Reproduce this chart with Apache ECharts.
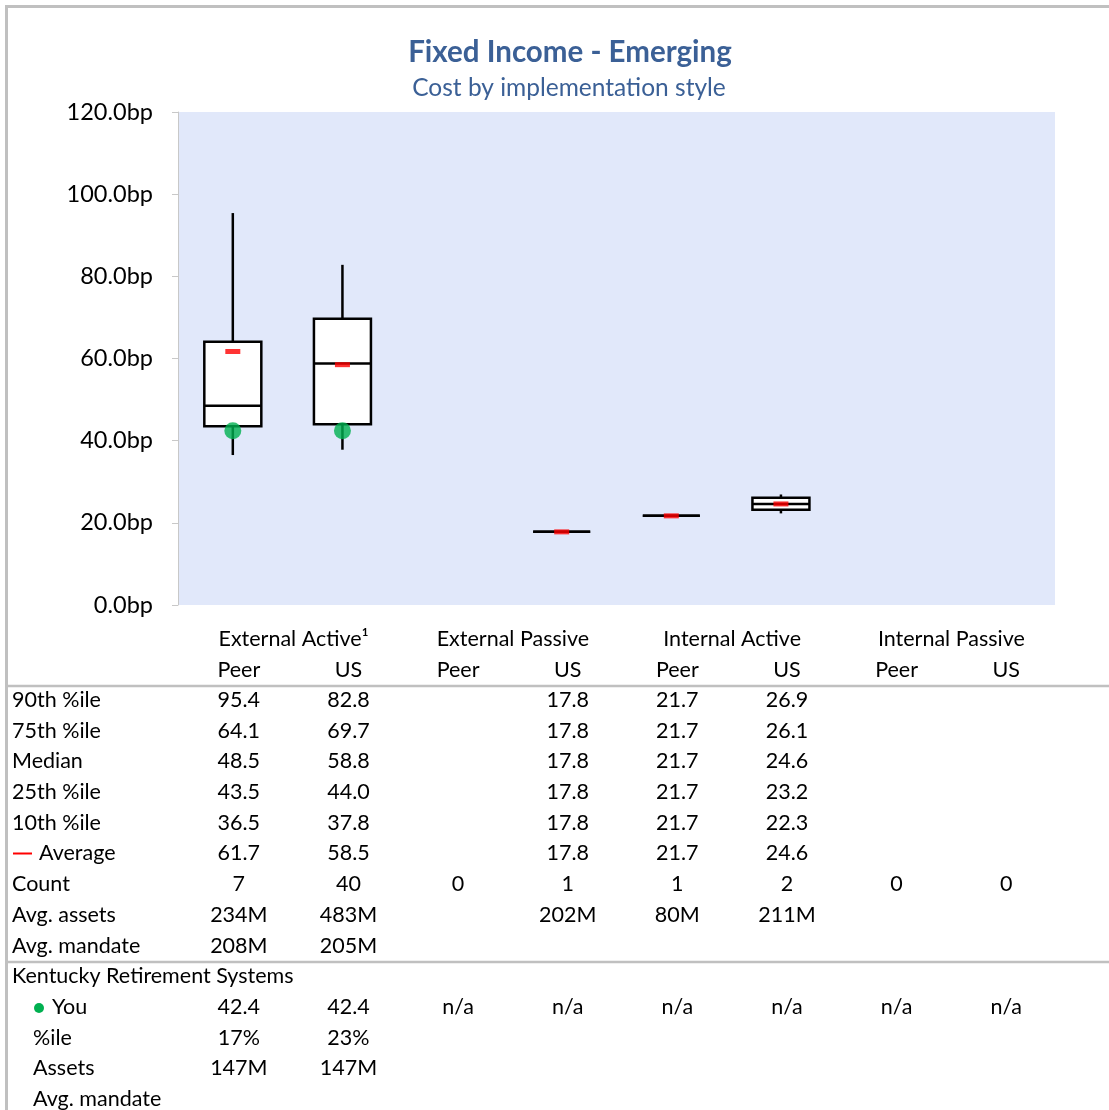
<!DOCTYPE html>
<html><head><meta charset="utf-8">
<script src="https://cdn.jsdelivr.net/npm/echarts@6/dist/echarts.min.js"></script>
<style>html,body{margin:0;padding:0;background:#fff}#c{width:1109px;height:1110px}</style>
</head><body><div id="c"></div>
<script>
const categories = ['Peer','US','Peer','US','Peer','US','Peer','US'];
const groups = ['External Active\u00b9','External Passive','Internal Active','Internal Passive'];
const yTicks = [0,20,40,60,80,100,120];
const p90 = [95.4, 82.8, null, 17.8, 21.7, 26.9, null, null];
const p75 = [64.1, 69.7, null, 17.8, 21.7, 26.1, null, null];
const median = [48.5, 58.8, null, 17.8, 21.7, 24.6, null, null];
const p25 = [43.5, 44.0, null, 17.8, 21.7, 23.2, null, null];
const p10 = [36.5, 37.8, null, 17.8, 21.7, 22.3, null, null];
const average = [61.7, 58.5, null, 17.8, 21.7, 24.6, null, null];
const count = ['7','40','0','1','1','2','0','0'];
const avgAssets = ['234M','483M','','202M','80M','211M','',''];
const avgMandate = ['208M','205M','','','','','',''];
const you = [42.4, 42.4, null, null, null, null, null, null];
const youPct = ['17%','23%','','','','','',''];
const youAssets = ['147M','147M','','','','','',''];
const youMandate = ['','','','','','','',''];
const orgName = 'Kentucky Retirement Systems';

const FONT = 'Lato';
const FS = 21.5;
const fmt = v => v == null ? '' : v.toFixed(1);
const chart = echarts.init(document.getElementById('c'), null, {renderer:'canvas'});

const boxData = categories.map((c,i) => p90[i]==null ? null : [i, p10[i], p25[i], median[i], p75[i], p90[i]]).filter(d=>d);

chart.setOption({
  animation:false,
  title:[
    {text:'Fixed Income - Emerging', left:565, top:32, textAlign:'center',
     textStyle:{fontFamily:FONT, fontSize:29.5, fontWeight:'bold', color:'#3b6096'}},
    {text:'Cost by implementation style', left:564, top:71, textAlign:'center',
     textStyle:{fontFamily:FONT, fontSize:24.5, fontWeight:'normal', color:'#3b6096'}}
  ],
  grid:{left:178, top:112, right:54, bottom:505, show:true, backgroundColor:'#e1e8fa', borderWidth:0},
  xAxis:{type:'category', data:categories, axisLine:{show:false}, axisTick:{show:false}, axisLabel:{show:false}},
  yAxis:{type:'value', min:yTicks[0], max:yTicks[yTicks.length-1], interval:20,
    axisLine:{show:true, lineStyle:{color:'#c8c8c8', width:1}},
    axisTick:{show:true, length:6, lineStyle:{color:'#c8c8c8'}},
    splitLine:{show:false},
    axisLabel:{formatter:v=>v.toFixed(1)+'bp', fontFamily:FONT, fontSize:23.5, color:'#000', margin:25}},
  series:[
    {type:'custom', z:2, data:boxData, renderItem:(params, api)=>{
      const x = api.value(0);
      const w = api.size([1,0])[0]*0.52;
      const px = api.coord([x, api.value(1)]);
      const cx = px[0];
      const y10 = px[1], y25 = api.coord([x, api.value(2)])[1], ym = api.coord([x, api.value(3)])[1],
            y75 = api.coord([x, api.value(4)])[1], y90 = api.coord([x, api.value(5)])[1];
      const ls = {stroke:'#000', lineWidth:2.5};
      return {type:'group', children:[
        {type:'line', shape:{x1:cx,y1:y90,x2:cx,y2:y75}, style:ls},
        {type:'line', shape:{x1:cx,y1:y25,x2:cx,y2:y10}, style:ls},
        {type:'rect', shape:{x:cx-w/2, y:y75, width:w, height:Math.max(y25-y75,0)}, style:{fill:'#fff', stroke:'#000', lineWidth:2.5}},
        {type:'line', shape:{x1:cx-w/2,y1:ym,x2:cx+w/2,y2:ym}, style:ls}
      ]};
    }},
    {type:'scatter', z:3, symbol:'rect', symbolSize:[15,5], itemStyle:{color:'#ff0000'},
     data:average.map((v,i)=>v==null?null:[i,v]).filter(d=>d)},
    {type:'scatter', z:4, symbol:'circle', symbolSize:17, itemStyle:{color:'#00b050'},
     data:you.map((v,i)=>v==null?null:[i,v]).filter(d=>d)}
  ]
});

// table
const colX = categories.map((c,i)=>chart.convertToPixel({xAxisIndex:0}, i) + 6);
const g = [];
const T = (text, x, y, align) => g.push({type:'text', x, y, z:10, style:{text, fontFamily:FONT, fontSize:FS, fill:'#000', align:align||'center', verticalAlign:'middle'}});
groups.forEach((gname, k)=> T(gname, (colX[2*k]+colX[2*k+1])/2, 639));
categories.forEach((c,i)=> T(c, colX[i], 670));
const rowH = 30.7, y0 = 700;
const rows = [
  ['90th %ile', p90.map(fmt)],
  ['75th %ile', p75.map(fmt)],
  ['Median', median.map(fmt)],
  ['25th %ile', p25.map(fmt)],
  ['10th %ile', p10.map(fmt)],
  ['Average', average.map(fmt)],
  ['Count', count],
  ['Avg. assets', avgAssets],
  ['Avg. mandate', avgMandate],
  [orgName, null],
  ['You', you.map(v=>v==null?'n/a':v.toFixed(1))],
  ['%ile', youPct],
  ['Assets', youAssets],
  ['Avg. mandate', youMandate]
];
rows.forEach((r, ri)=>{
  const y = y0 + ri*rowH;
  let lx = 12;
  if (ri === 5) { lx = 39; g.push({type:'line', z:10, shape:{x1:13,y1:y,x2:32,y2:y}, style:{stroke:'#ff0000', lineWidth:2}}); }
  if (ri === 10) { lx = 52; g.push({type:'circle', z:10, shape:{cx:39, cy:y+1, r:5}, style:{fill:'#00b050'}}); }
  else if (ri > 10) lx = 33;
  T(r[0], lx, y, 'left');
  if (r[1]) r[1].forEach((v,i)=> v && T(v, colX[i], y));
});
const bs = {stroke:'#c0c0c0', lineWidth:3};
g.push({type:'line', z:10, shape:{x1:5,y1:6.5,x2:1109,y2:6.5}, style:bs});
g.push({type:'line', z:10, shape:{x1:6.5,y1:5,x2:6.5,y2:1110}, style:bs});
g.push({type:'line', z:10, shape:{x1:8,y1:686,x2:1109,y2:686}, style:{stroke:'#c0c0c0', lineWidth:2.5}});
g.push({type:'line', z:10, shape:{x1:8,y1:962,x2:1109,y2:962}, style:{stroke:'#c0c0c0', lineWidth:2.5}});
chart.setOption({graphic:g});
</script></body></html>
